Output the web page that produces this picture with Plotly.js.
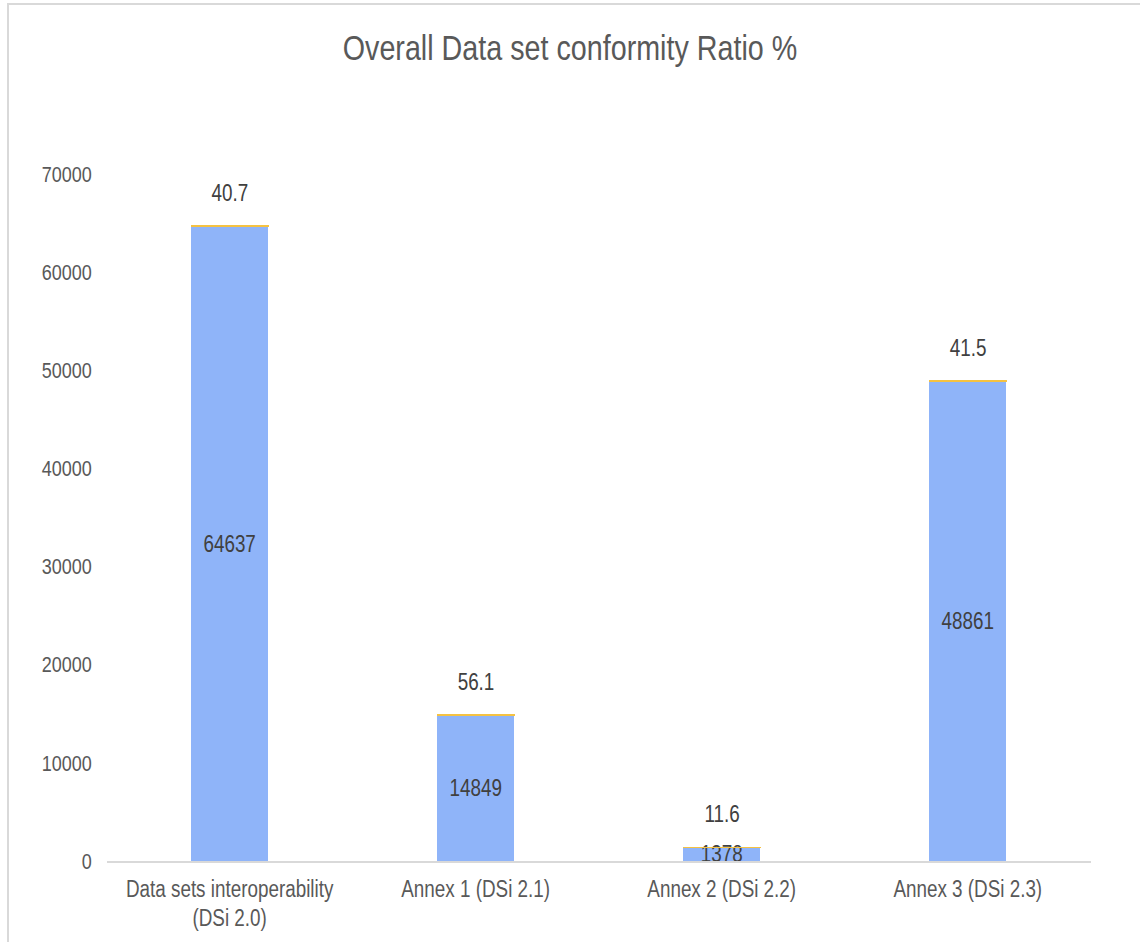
<!DOCTYPE html>
<html>
<head>
<meta charset="utf-8">
<script src="https://cdn.plot.ly/plotly-3.0.1.min.js"></script>
<style>
  html, body { margin: 0; padding: 0; background: #ffffff; }
  #wrap { position: relative; width: 1140px; height: 942px; overflow: hidden; }
  #chart { position: absolute; left: 0; top: 0; width: 1390px; height: 942px;
           transform-origin: 0 0; transform: scaleX(0.82014); }
  #frame { position: absolute; left: 7px; top: 3px; width: 1140px; height: 950px;
           border-top: 2px solid #d9d9d9; border-left: 2px solid #d9d9d9; pointer-events: none; }
</style>
</head>
<body>
<div id="wrap">
  <div id="chart"></div>
  <div id="frame"></div>
</div>
<script>
const categories = [
  "Data sets interoperability<br>(DSi 2.0)",
  "Annex 1 (DSi 2.1)",
  "Annex 2 (DSi 2.2)",
  "Annex 3 (DSi 2.3)"
];
const dataSetCounts = [64637, 14849, 1378, 48861];
const conformityRatio = [40.7, 56.1, 11.6, 41.5];
const yTickValues = [0, 10000, 20000, 30000, 40000, 50000, 60000, 70000];

const S = 1140 / 1390;  // horizontal squeeze of the reference image
const FONT = '"Liberation Sans", Arial, sans-serif';
const TXT = '#595959';

const traces = [
  {
    type: 'bar',
    x: categories,
    y: dataSetCounts,
    name: 'Data sets',
    marker: { color: '#8fb4f9', line: { width: 0 } },
    text: dataSetCounts.map(String),
    textposition: 'inside',
    insidetextanchor: 'middle',
    constraintext: 'none',
    textfont: { family: FONT, size: 23, color: '#404040' },
    hoverinfo: 'x+y'
  },
  {
    type: 'bar',
    x: categories,
    y: conformityRatio,
    name: 'Conformity ratio %',
    marker: { color: '#f5c242', line: { color: '#f5c242', width: 1.5 } },
    hoverinfo: 'x+y'
  }
];

const totals = dataSetCounts.map((v, i) => v + conformityRatio[i]);
const annotations = categories.map((c, i) => ({
  x: c, y: totals[i], xref: 'x', yref: 'y',
  text: String(conformityRatio[i]),
  showarrow: false, yanchor: 'bottom', yshift: 18,
  font: { family: FONT, size: 23, color: '#404040' }
}));

const layout = {
  width: 1390, height: 942,
  paper_bgcolor: '#ffffff', plot_bgcolor: '#ffffff',
  margin: { l: Math.round(107 / S), r: Math.round(49 / S), t: 174, b: 81 },
  barmode: 'stack',
  bargap: 0.687,
  showlegend: false,
  title: {
    text: 'Overall Data set conformity Ratio %',
    font: { family: FONT, size: 35, color: TXT },
    x: 0.5, xanchor: 'center', y: 1 - 48 / 942, yanchor: 'middle'
  },
  xaxis: {
    type: 'category',
    showgrid: false,
    showline: true, linecolor: '#d9d9d9', linewidth: 2,
    ticks: '',
    tickfont: { family: FONT, size: 23, color: TXT },
    ticklabelstandoff: 6,
    zeroline: false,
    fixedrange: true
  },
  yaxis: {
    range: [0, 70000],
    tickvals: yTickValues,
    ticktext: yTickValues.map(String),
    showgrid: false, zeroline: false, showline: false,
    ticks: '',
    tickfont: { family: FONT, size: 22, color: TXT },
    ticklabelstandoff: Math.round(14 / S),
    fixedrange: true
  },
  annotations: annotations
};

Plotly.newPlot('chart', traces, layout, { displayModeBar: false, staticPlot: true });
</script>
</body>
</html>
